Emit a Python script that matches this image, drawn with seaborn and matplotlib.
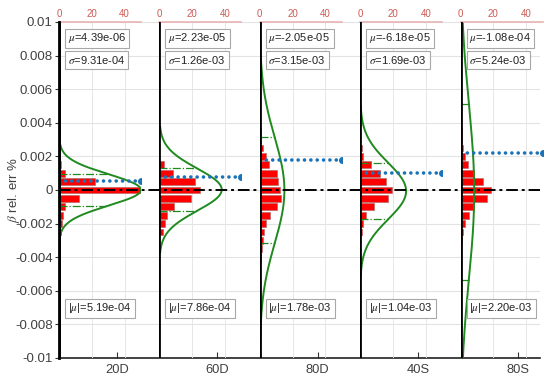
import numpy as np
import matplotlib
matplotlib.use('Agg')
import matplotlib.pyplot as plt
import seaborn as sns

# ---------------- data ----------------
categories = ['20D', '60D', '80D', '40S', '80S']
bin_centers = [0.01, 0.0035, 0.003, 0.0025, 0.002, 0.0015, 0.001, 0.0005, 0.0,
               -0.0005, -0.001, -0.0015, -0.002, -0.0025, -0.003, -0.0035, -0.004, -0.01]
counts_20D = [0, 0, 0, 0, 0, 1.4, 3.7, 22, 50, 12, 3.7, 2.5, 1.8, 1, 0, 0, 0, 0]
counts_60D = [0, 0, 0, 0, 0, 2.6, 8, 21.5, 25, 19, 8.7, 4.7, 3.7, 2, 0, 0, 0, 0]
counts_80D = [1, 1, 0.8, 2.2, 3.7, 5.8, 10.5, 10.8, 12.2, 12.8, 10.5, 6, 4, 2.6, 2, 1.3, 1, 1]
counts_40S = [0, 0, 0, 0.8, 1.5, 6.7, 12, 15.6, 19.5, 17, 8.2, 3.5, 1.8, 1.2, 0, 0, 0, 0]
counts_80S = [1, 0.8, 1, 1.3, 2.6, 4.6, 8, 13.6, 18.3, 15.9, 8.4, 5, 2.5, 1.3, 0.8, 0, 0, 1]
counts_all = [counts_20D, counts_60D, counts_80D, counts_40S, counts_80S]

mu_vals = [4.39e-06, 2.23e-05, -2.05e-05, -6.18e-05, -1.08e-04]
sigma_vals = [9.31e-04, 1.26e-03, 3.15e-03, 1.69e-03, 5.24e-03]
abs_mu_vals = [5.19e-04, 7.86e-04, 1.78e-03, 1.04e-03, 2.20e-03]
fit_peaks = [50, 38, 15, 28, 8.3]

y_ticks = [0.01, 0.008, 0.006, 0.004, 0.002, 0, -0.002, -0.004, -0.006, -0.008, -0.01]
y_tick_labels = ['0.01', '0.008', '0.006', '0.004', '0.002', '0',
                 '-0.002', '-0.004', '-0.006', '-0.008', '-0.01']
top_ticks = [0, 20, 40]

# ---------------- style ----------------
sns.set_theme(style='white')
plt.rcParams['font.family'] = ['Liberation Sans', 'DejaVu Sans']
plt.rcParams['mathtext.fontset'] = 'stix'

GREEN = '#1f8a1f'
BLUE = '#1a73b8'
RED_TXT = '#cc5a55'
GRAY_TXT = '#404040'

W, H = 550, 379
fig = plt.figure(figsize=(W / 100, H / 100), dpi=100)
L, R, T, B = 59, 540, 22, 358
ax = fig.add_axes([L / W, 1 - B / H, (R - L) / W, (B - T) / H])

step = 100.4
x0 = (L - 116.8) / step
ax.set_xlim(x0, (R - 116.8) / step)
ax.set_ylim(-0.01, 0.01)
ax.set_xticks(range(len(categories)))
ax.set_xticklabels(categories, fontsize=9.3, color=GRAY_TXT)
ax.set_yticks(y_ticks)
ax.set_yticklabels(y_tick_labels, fontsize=9.5, color=GRAY_TXT)
ax.tick_params(axis='x', direction='in', length=4, width=0.8, color='#333333', pad=4,
               bottom=True)
ax.tick_params(axis='y', direction='out', length=3, width=0.8, color='#333333', pad=1.5,
               left=True)
ax.grid(axis='y', color='#e3e3e3', lw=0.8)
ax.set_axisbelow(True)
for s in ['top', 'right']:
    ax.spines[s].set_visible(False)
ax.spines['left'].set_color('black')
ax.spines['left'].set_linewidth(2)
ax.spines['left'].set_zorder(12)
ax.spines['bottom'].set_color('#222222')
ax.spines['bottom'].set_linewidth(1.2)
ax.set_ylabel('')
fig.text(14 / W, 1 - 190 / H, r'$\beta$ rel. err %', fontsize=9.5, color=GRAY_TXT,
         rotation=90, ha='center', va='center')

# zero line on top of all panels
ax.axhline(0, color='black', lw=1.4, ls=(0, (6, 2, 1.5, 2)), zorder=10)

panel_w = 82 / step
for k, cat in enumerate(categories):
    left = x0 + k
    axi = ax.inset_axes([left, -0.01, panel_w, 0.02], transform=ax.transData, zorder=5)
    axi.patch.set_alpha(0)
    sns.histplot(y=bin_centers, weights=counts_all[k], binwidth=0.0005,
                 binrange=(-0.01025, 0.01025), ax=axi, color='#ff0000', alpha=1,
                 edgecolor='#b86a6a', linewidth=0.5, shrink=0.82)
    mu, sg, pk = mu_vals[k], sigma_vals[k], fit_peaks[k]
    yy = np.linspace(mu - 3 * sg, mu + 3 * sg, 300)
    xx = pk * np.exp(-0.5 * ((yy - mu) / sg) ** 2)
    sns.lineplot(x=xx, y=yy, orient='y', sort=False, estimator=None, color=GREEN,
                 lw=1.4, ax=axi)
    xs = pk * np.exp(-0.5)
    for yv in (mu + sg, mu - sg):
        axi.plot([0, xs], [yv, yv], color=GREEN, lw=0.9, ls='-.')
    axi.plot([0, 50], [abs_mu_vals[k]] * 2, color=BLUE, lw=2.6, ls=(0, (0.01, 1.75)),
             dash_capstyle='round', solid_capstyle='round')
    axi.plot([50], [abs_mu_vals[k]], 'o', color=BLUE, ms=4)
    axi.axvline(0, color='black', lw=2, zorder=10)

    axi.set_xlim(0, 50)
    axi.set_ylim(-0.01, 0.01)
    axi.set_xlabel('')
    axi.set_ylabel('')
    axi.set_yticks([])
    axi.xaxis.tick_top()
    axi.set_xticks(top_ticks)
    axi.set_xticklabels([str(t) for t in top_ticks], fontsize=7, color=RED_TXT)
    axi.tick_params(axis='x', top=True, bottom=False, length=0, pad=2)
    axi.grid(axis='x', color='#e6e6e6', lw=0.7)
    axi.set_axisbelow(True)
    for s in ['left', 'right', 'bottom']:
        axi.spines[s].set_visible(False)
    axi.spines['top'].set_color('#e8b4b4')
    axi.spines['top'].set_linewidth(1.2)

    box = dict(boxstyle='square,pad=0.25', fc='white', ec='#a8a8a8', lw=0.8)
    axi.text(5.3, 0.00903, r'$\mu$=' + f'{mu:.2e}' + ' ', fontsize=8, va='center',
             ha='left', color='#222222', bbox=box)
    axi.text(5.3, 0.00773, r'$\sigma$=' + f'{sg:.2e}' + ' ', fontsize=8, va='center',
             ha='left', color='#222222', bbox=box)
    axi.text(5.3, -0.00705, r'|$\mu$|=' + f'{abs_mu_vals[k]:.2e}' + ' ', fontsize=8,
             va='center', ha='left', color='#222222', bbox=box)

fig.savefig('out.png', dpi=100)
